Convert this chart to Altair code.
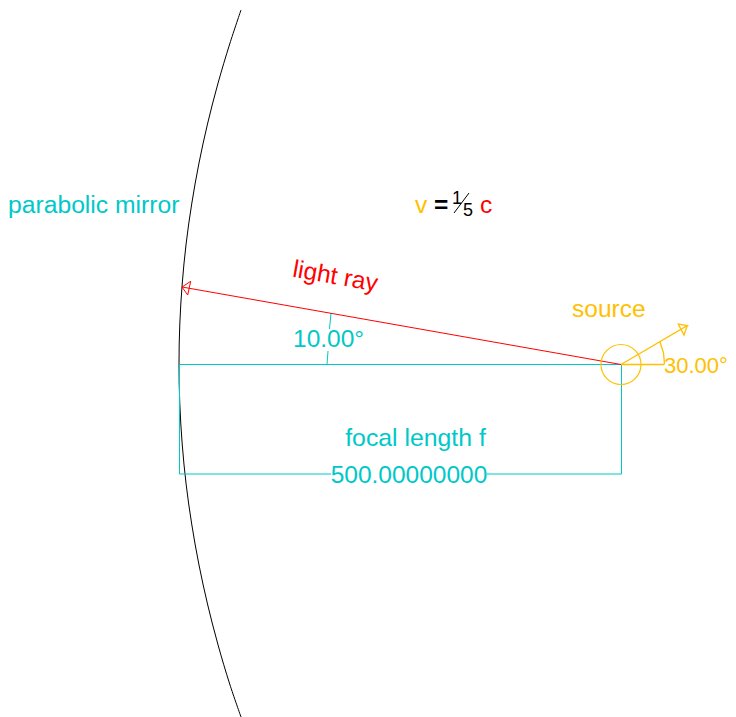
import altair as alt
import pandas as pd

CYAN = "#00c8c8"
ORANGE = "#ffc000"
RED = "#ff0000"
BLACK = "#000000"
FONT = "Liberation Sans"

# Diagram coordinates
mirror_x = [241, 229.7, 217.8, 207.5, 198.8, 191.7, 186.1, 182.2, 179.8, 179,
            179.8, 182.2, 186.1, 191.7, 198.8, 207.5, 217.8, 229.7, 241]
mirror_y = [10, 44, 84, 124, 164, 204, 244, 284, 324, 364,
            404, 444, 484, 524, 564, 604, 644, 684, 717]

ray_x = [621, 182, 190.7, 187.7, 182]
ray_y = [364.5, 287, 281.3, 295, 287]

velocity_x = [621, 687.3, 678.3, 684, 687.3]
velocity_y = [364.5, 325.5, 324, 335, 325.5]

baseline_x = [621, 664]
baseline_y = [364.5, 364.5]

velocity_arc_x = [664.5, 663.5, 660]
velocity_arc_y = [364.5, 353, 342]

frame_x = [331, 179.5, 179.5, 621.5, 621.5, 487]
frame_y = [474, 474, 364.5, 364.5, 474, 474]

ray_arc_low_x = [327, 328]
ray_arc_low_y = [364.5, 351]
ray_arc_high_x = [329.5, 331]
ray_arc_high_y = [329, 313]

slash_x = [454, 469]
slash_y = [213, 193]

source_x = [621]
source_y = [364.5]

labels = [
    ("parabolic mirror", 8, 213, CYAN, "left", 0, 24.7, "normal"),
    ("v", 415, 213, ORANGE, "left", 0, 24.5, "normal"),
    ("=", 434, 213, BLACK, "left", 0, 24.5, "bold"),
    ("1", 452, 204, BLACK, "left", 0, 18, "normal"),
    ("5", 463, 216, BLACK, "left", 0, 18, "normal"),
    ("c", 480, 213, RED, "left", 0, 24.5, "normal"),
    ("light ray", 334, 284, RED, "center", 10, 24.5, "normal"),
    ("10.00°", 293, 347, CYAN, "left", 0, 24.5, "normal"),
    ("source", 572, 317, ORANGE, "left", 0, 24.5, "normal"),
    ("30.00°", 664, 373, ORANGE, "left", 0, 22, "normal"),
    ("focal length f", 415.5, 446, CYAN, "center", 0, 24.8, "normal"),
    ("500.00000000", 409, 483, CYAN, "center", 0, 24.5, "normal"),
]

x_scale = alt.Scale(domain=[8, 728], range=[0, 720], nice=False, zero=False)
y_scale = alt.Scale(domain=[8, 717], range=[0, 709], nice=False, zero=False)
X = lambda: alt.X("x:Q", scale=x_scale, axis=None)
Y = lambda: alt.Y("y:Q", scale=y_scale, axis=None)


def polyline(xs, ys, color, width=1.0, interpolate="linear"):
    df = pd.DataFrame({"x": xs, "y": ys, "i": range(len(xs))})
    return alt.Chart(df).mark_line(
        color=color, strokeWidth=width, interpolate=interpolate
    ).encode(x=X(), y=Y(), order="i:Q")


layers = [
    polyline(mirror_x, mirror_y, BLACK, interpolate="catmull-rom"),
    polyline(frame_x, frame_y, CYAN),
    polyline(ray_arc_low_x, ray_arc_low_y, CYAN),
    polyline(ray_arc_high_x, ray_arc_high_y, CYAN),
    polyline(ray_x, ray_y, RED),
    polyline(baseline_x, baseline_y, ORANGE, width=1.3),
    polyline(velocity_x, velocity_y, ORANGE, width=1.3),
    polyline(velocity_arc_x, velocity_arc_y, ORANGE, width=1.3),
    polyline(slash_x, slash_y, BLACK),
    alt.Chart(pd.DataFrame({"x": source_x, "y": source_y})).mark_point(
        shape="circle", filled=False, size=1600, color=ORANGE, strokeWidth=1.2, opacity=1
    ).encode(x=X(), y=Y()),
]

for text, x, y, color, align, angle, size, weight in labels:
    layers.append(
        alt.Chart(pd.DataFrame({"x": [x], "y": [y], "t": [text]})).mark_text(
            font=FONT, fontSize=size, fontWeight=weight, color=color, align=align,
            baseline="alphabetic", angle=angle,
        ).encode(x=X(), y=Y(), text="t:N")
    )

chart = alt.layer(*layers).properties(
    width=720, height=709, padding=0, autosize=alt.AutoSizeParams(type="none"),
    background="white",
).configure_view(stroke=None)

chart.save("out.html", embed_options={"renderer": "svg", "actions": False})
